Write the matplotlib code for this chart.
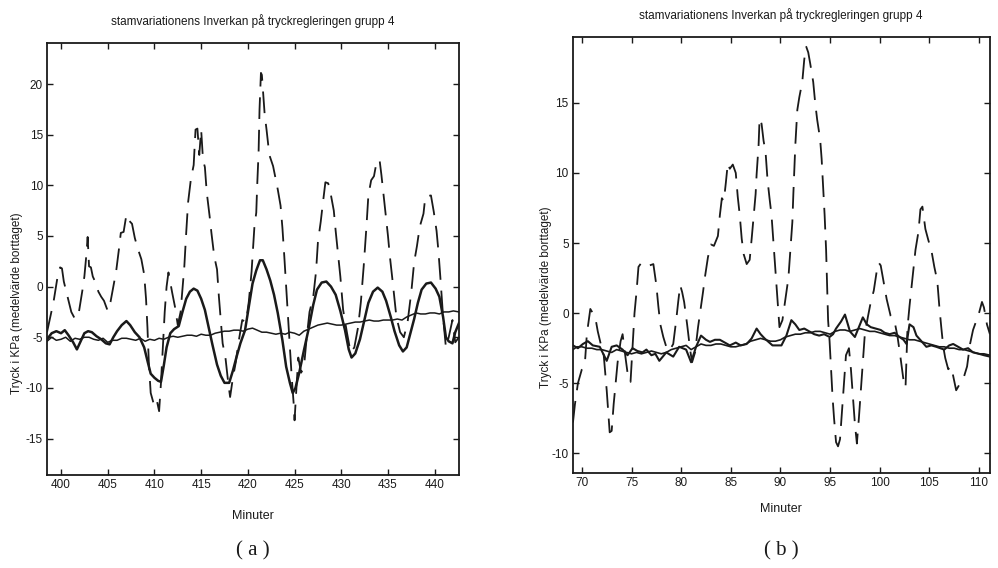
import matplotlib
matplotlib.use("Agg")
import matplotlib.pyplot as plt
from matplotlib.ticker import MultipleLocator

plt.rcParams['font.family'] = ['Liberation Sans', 'DejaVu Sans']
plt.rcParams['axes.unicode_minus'] = False

TITLE = "stamvariationens Inverkan på tryckregleringen grupp 4"
YLABEL = "Tryck i KPa (medelvärde borttaget)"
XLABEL = "Minuter"

# ---------------- panel (a): minutes 398.5 - 442.6 ----------------
a_dash_t = [398.5, 399.2, 399.6, 399.9, 400.1, 400.3, 400.7, 401.1, 401.5, 401.9,
            402.3, 402.5, 402.7, 402.85, 403.0, 403.2, 403.4, 403.7, 404.0, 404.3,
            404.6, 405.0, 405.3, 405.6, 405.9, 406.2, 406.4, 406.7, 407.0, 407.3,
            407.6, 407.9, 408.2, 408.6, 408.9, 409.1, 409.25, 409.4, 409.6, 409.9,
            410.2, 410.5, 410.7, 410.9, 411.1, 411.3, 411.5, 411.9, 412.2, 412.5,
            412.8, 413.0, 413.2, 413.4, 413.6, 413.9, 414.2, 414.4, 414.6, 414.8,
            415.0, 415.2, 415.4, 415.6, 415.9, 416.1, 416.4, 416.7, 416.9, 417.1,
            417.3, 417.6, 417.9, 418.1, 418.4, 418.7, 419.0, 419.4, 419.8, 420.1,
            420.4, 420.7, 420.9, 421.0, 421.15, 421.25, 421.4, 421.5, 421.8, 422.0,
            422.3, 422.7, 423.2, 423.5, 423.7, 423.9, 424.1, 424.3, 424.5, 424.7,
            424.9, 425.0, 425.2, 425.4, 425.7, 426.0, 426.3, 426.6, 427.0, 427.3,
            427.5, 427.8, 428.0, 428.3, 428.6, 428.9, 429.2, 429.4, 429.6, 429.9,
            430.2, 430.6, 431.0, 431.4, 431.8, 432.1, 432.4, 432.7, 432.9, 433.2,
            433.5, 433.8, 434.1, 434.3, 434.5, 434.8, 435.0, 435.2, 435.5, 435.9,
            436.3, 436.7, 437.1, 437.5, 437.8, 438.1, 438.4, 438.8, 439.0, 439.6,
            439.9, 440.2, 440.4, 440.6, 440.9, 441.2, 441.5, 441.9, 442.2, 442.6]
a_dash_p = [-4.5, -1.5, 0.8, 1.9, 1.8, 0.5, -1.0, -2.5, -3.2, -2.6,
            -0.3, 1.0, 3.0, 4.9, 2.0, 1.9, 1.0, 0.4, -0.5, -1.0,
            -1.4, -2.4, -1.5, 0.0, 1.5, 3.7, 5.3, 5.4, 7.1, 6.5,
            6.2, 4.8, 3.8, 2.7, 1.2, -1.2, -4.0, -7.5, -10.5, -11.5,
            -11.0, -12.3, -9.5, -6.0, -2.5, 0.0, 1.4, -0.6, -2.0, -3.8,
            -2.5, -0.3, 2.0, 5.3, 8.3, 10.6, 12.0, 15.5, 15.6, 13.0,
            15.5, 12.5, 11.8, 9.3, 7.0, 5.3, 3.0, 1.7, -1.0, -3.3,
            -5.6, -7.0, -9.5, -10.9, -9.0, -7.5, -5.5, -3.3, -3.5, -1.5,
            1.5, 5.9, 7.3, 10.0, 13.3, 17.5, 21.1, 20.9, 17.0, 15.5,
            13.0, 11.9, 9.6, 8.0, 5.8, 3.0, 0.0, -3.0, -6.0, -9.0,
            -11.5, -13.2, -10.0, -7.0, -8.5, -8.0, -5.0, -2.5, -1.0, 1.5,
            4.4, 6.4, 8.0, 10.3, 10.2, 9.0, 7.5, 5.5, 3.7, 1.0,
            -2.3, -4.5, -6.5, -6.0, -4.0, -1.5, 2.0, 6.0, 9.0, 10.5,
            10.9, 12.4, 12.5, 11.0, 9.3, 6.8, 5.0, 3.0, 0.5, -3.0,
            -4.5, -5.0, -3.5, -0.5, 2.4, 4.0, 5.9, 7.2, 8.9, 9.0,
            7.4, 5.5, 3.5, 1.0, -3.0, -6.0, -5.0, -3.3, -5.5, -5.0]

a_solid_t = [398.5, 399.0, 399.5, 400.0, 400.4, 400.8, 401.3, 401.7, 402.1, 402.5,
             402.9, 403.3, 403.8, 404.3, 404.8, 405.2, 405.6, 406.0, 406.5, 407.0,
             407.4, 407.9, 408.4, 408.9, 409.3, 409.6, 410.0, 410.4, 410.7, 411.0,
             411.3, 411.7, 412.1, 412.6, 413.0, 413.4, 413.8, 414.2, 414.6, 415.0,
             415.4, 415.8, 416.2, 416.7, 417.1, 417.5, 418.0, 418.4, 418.8, 419.2,
             419.7, 420.1, 420.5, 420.9, 421.3, 421.6, 422.0, 422.4, 422.8, 423.2,
             423.7, 424.1, 424.5, 424.8, 425.1, 425.5, 426.0, 426.5, 427.0, 427.4,
             427.9, 428.4, 428.9, 429.4, 429.9, 430.4, 430.8, 431.1, 431.5, 432.0,
             432.5, 432.9, 433.4, 433.9, 434.4, 434.8, 435.3, 435.7, 436.2, 436.6,
             437.0, 437.4, 437.8, 438.2, 438.6, 439.1, 439.6, 440.1, 440.5, 440.9,
             441.2, 441.5, 441.9, 442.2, 442.6]
a_solid_p = [-5.2, -4.6, -4.4, -4.6, -4.3, -4.8, -5.5, -6.2, -5.4, -4.6,
             -4.4, -4.5, -4.9, -5.2, -5.6, -5.7, -5.0, -4.4, -3.8, -3.4,
             -3.8, -4.5, -5.0, -6.0, -7.5, -8.6, -9.0, -9.3, -9.4, -7.8,
             -6.0, -4.6, -4.2, -3.9, -2.5, -1.2, -0.5, -0.2, -0.4, -1.2,
             -2.3, -4.0, -5.7, -7.7, -8.8, -9.5, -9.5, -8.3, -6.9, -5.6,
             -4.3, -2.0, 0.3, 1.6, 2.6, 2.6, 1.7, 0.6, -0.8, -2.6,
             -5.3, -7.9, -9.5, -10.5, -10.0, -8.5, -6.3, -4.2, -1.8, -0.3,
             0.4, 0.5, 0.0, -0.8, -2.4, -4.3, -6.2, -7.0, -6.6, -5.2,
             -3.2, -1.6, -0.5, -0.1, -0.5, -1.4, -3.0, -4.4, -5.8, -6.4,
             -6.0, -4.6, -3.2, -1.6, -0.3, 0.3, 0.4, -0.2, -1.0, -3.0,
             -5.0, -5.4, -5.6, -4.5, -3.6]

a_thin_t = [398.5, 399.0, 399.5, 400.0, 400.5, 401.0, 401.5, 402.0, 402.5, 403.0,
            403.5, 404.0, 404.5, 405.0, 405.5, 406.0, 406.5, 407.0, 407.5, 408.0,
            408.5, 409.0, 409.5, 410.0, 410.5, 411.0, 411.5, 412.0, 412.5, 413.0,
            413.5, 414.0, 414.5, 415.0, 415.5, 416.0, 416.5, 417.0, 417.5, 418.0,
            418.5, 419.0, 419.5, 420.0, 420.5, 421.0, 421.5, 422.0, 422.5, 423.0,
            423.5, 424.0, 424.5, 425.0, 425.5, 426.0, 426.5, 427.0, 427.5, 428.0,
            428.5, 429.0, 429.5, 430.0, 430.5, 431.0, 431.5, 432.0, 432.5, 433.0,
            433.5, 434.0, 434.5, 435.0, 435.5, 436.0, 436.5, 437.0, 437.5, 438.0,
            438.5, 439.0, 439.5, 440.0, 440.5, 441.0, 441.5, 442.0, 442.6]
a_thin_p = [-5.4, -5.0, -5.3, -5.2, -5.0, -5.4, -5.1, -5.2, -5.0, -5.0,
            -5.2, -5.3, -5.1, -5.5, -5.3, -5.3, -5.1, -5.1, -5.2, -5.3,
            -5.1, -5.4, -5.2, -5.3, -5.1, -5.2, -5.0, -4.9, -5.0, -4.9,
            -4.8, -4.8, -4.9, -4.7, -4.8, -4.8, -4.6, -4.5, -4.4, -4.4,
            -4.3, -4.3, -4.4, -4.2, -4.1, -4.3, -4.5, -4.5, -4.6, -4.7,
            -4.6, -4.7, -4.5, -4.6, -4.8, -4.4, -4.2, -4.0, -3.8, -3.7,
            -3.6, -3.7, -3.8, -3.8, -3.7, -3.6, -3.5, -3.5, -3.4, -3.3,
            -3.4, -3.4, -3.3, -3.3, -3.3, -3.2, -3.3, -3.0, -2.8, -2.6,
            -2.7, -2.7, -2.6, -2.6, -2.7, -2.5, -2.5, -2.4, -2.5]

# ---------------- panel (b): minutes 69.1 - 111.1 ----------------
b_dash_t = [69.1, 69.3, 69.6, 70.0, 70.3, 70.5, 70.7, 70.85, 71.1, 71.4,
            71.6, 71.9, 72.2, 72.5, 72.7, 72.8, 73.0, 73.2, 73.4, 73.6,
            73.9, 74.1, 74.4, 74.7, 74.9, 75.1, 75.3, 75.5, 75.7, 76.0,
            76.4, 76.8, 77.2, 77.5, 77.7, 77.9, 78.2, 78.5, 78.8, 79.2,
            79.5, 79.7, 79.9, 80.1, 80.3, 80.6, 80.9, 81.1, 81.4, 81.7,
            82.0, 82.2, 82.4, 82.7, 83.0, 83.3, 83.7, 83.9, 84.1, 84.3,
            84.5, 84.7, 84.9, 85.2, 85.5, 85.7, 85.9, 86.1, 86.3, 86.6,
            86.9, 87.1, 87.3, 87.5, 87.6, 87.8, 87.9, 88.1, 88.3, 88.5,
            88.7, 88.9, 89.1, 89.3, 89.5, 89.7, 89.9, 90.2, 90.5, 90.8,
            91.0, 91.2, 91.3, 91.4, 91.5, 91.7, 91.9, 92.2, 92.4, 92.6,
            92.8, 93.0, 93.3, 93.5, 93.7, 94.0, 94.15, 94.3, 94.45, 94.6,
            94.7, 94.8, 94.95, 95.1, 95.25, 95.4, 95.6, 95.8, 96.0, 96.2,
            96.4, 96.6, 96.9, 97.1, 97.3, 97.5, 97.7, 97.9, 98.1, 98.3,
            98.5, 98.8, 99.1, 99.4, 99.7, 99.9, 100.1, 100.4, 100.7, 101.1,
            101.5, 101.8, 102.1, 102.4, 102.6, 102.8, 103.0, 103.3, 103.6, 103.9,
            104.1, 104.3, 104.6, 104.9, 105.2, 105.5, 105.8, 106.0, 106.2, 106.4,
            106.6, 106.9, 107.2, 107.5, 107.7, 108.1, 108.5, 108.8, 109.1, 109.4,
            109.7, 110.0, 110.3, 110.5, 110.8, 111.1]
b_dash_p = [-7.8, -6.5, -5.0, -4.0, -3.6, -1.5, -0.5, 0.3, 0.0, -0.5,
            -1.3, -2.2, -3.0, -5.5, -7.5, -8.5, -8.4, -6.5, -5.0, -3.5,
            -2.0, -1.5, -3.2, -4.8, -4.9, -2.5, 0.0, 1.5, 3.3, 3.6,
            3.4, 3.4, 3.5, 2.0, 0.5, -0.8, -1.7, -2.4, -2.7, -2.2,
            -0.5, 0.8, 2.0, 1.5, 0.8, -0.8, -2.6, -3.5, -2.8, -1.0,
            0.5, 1.5, 2.6, 4.0, 4.9, 4.8, 5.5, 7.0, 8.2, 8.0,
            9.3, 10.7, 10.3, 10.6, 10.0, 8.3, 7.0, 5.3, 4.2, 3.5,
            3.8, 5.3, 6.9, 8.5, 9.9, 12.0, 13.9, 13.5, 12.3, 11.5,
            9.5, 8.2, 7.0, 5.0, 3.0, 1.0, -1.0, -0.5, 1.0, 2.5,
            4.5, 6.5, 8.5, 10.2, 12.0, 14.5, 15.4, 16.5, 18.1, 19.0,
            18.6, 17.8, 16.5, 15.0, 13.8, 12.4, 11.0, 9.0, 7.0, 4.5,
            2.0, -0.5, -2.0, -4.0, -6.0, -7.5, -9.2, -9.5, -9.0, -7.0,
            -5.0, -3.0, -2.5, -4.0, -6.0, -7.9, -9.3, -7.5, -5.5, -3.5,
            -1.5, -0.3, 0.8, 1.6, 3.0, 3.6, 3.4, 2.2, 1.0, -0.2,
            -0.6, -1.7, -3.2, -4.8, -5.3, -1.0, 0.5, 2.5, 4.5, 5.8,
            7.4, 7.6, 6.0, 5.2, 4.5, 3.3, 2.3, 0.5, -1.0, -2.4,
            -3.2, -4.0, -3.8, -4.8, -5.5, -5.0, -4.5, -3.8, -2.2, -1.2,
            -0.6, 0.0, 0.8, 0.4, -0.8, -1.5]

b_solid_t = [69.1, 69.6, 70.1, 70.6, 71.1, 71.8, 72.5, 73.0, 73.5, 74.1,
             74.6, 75.1, 75.6, 76.1, 76.5, 77.0, 77.4, 77.8, 78.5, 79.2,
             79.8, 80.5, 81.0, 81.5, 82.0, 82.5, 82.9, 83.4, 83.9, 84.4,
             84.9, 85.5, 86.0, 86.6, 87.1, 87.6, 88.0, 88.4, 89.2, 90.1,
             90.6, 91.1, 91.5, 91.9, 92.4, 92.9, 93.4, 93.9, 94.4, 94.95,
             95.3, 95.6, 96.1, 96.5, 97.0, 97.5, 97.9, 98.3, 98.7, 99.1,
             99.6, 100.1, 100.5, 101.0, 101.5, 102.0, 102.4, 102.7, 103.0, 103.4,
             103.7, 104.2, 104.7, 105.2, 105.7, 106.1, 106.5, 107.0, 107.4, 107.9,
             108.4, 108.9, 109.4, 110.0, 110.5, 111.1]
b_solid_p = [-2.3, -2.5, -2.2, -2.0, -2.3, -2.4, -3.4, -2.4, -2.3, -2.6,
             -3.0, -2.5, -2.7, -2.8, -2.6, -3.0, -2.9, -3.4, -2.8, -3.1,
             -2.4, -2.6, -3.5, -2.4, -1.6, -1.9, -2.05, -1.9, -1.9, -2.1,
             -2.3, -2.1, -2.3, -2.2, -1.8, -1.1, -1.5, -1.8, -2.3, -2.3,
             -1.6, -0.5, -0.8, -1.2, -1.1, -1.3, -1.5, -1.6, -1.5, -1.7,
             -1.5, -1.1, -0.6, -0.1, -1.3, -1.7, -1.0, -0.3, -0.8, -1.0,
             -1.1, -1.2, -1.4, -1.5, -1.4, -1.7, -1.9, -2.2, -0.8, -1.0,
             -1.6, -2.0, -2.4, -2.3, -2.4, -2.5, -2.6, -2.3, -2.2, -2.4,
             -2.6, -2.5, -2.8, -2.9, -3.0, -3.1]

b_thin_t = [69.1, 69.5, 70.0, 70.5, 71.0, 71.5, 72.0, 72.5, 73.0, 73.5,
            74.0, 74.5, 75.0, 75.5, 76.0, 76.5, 77.0, 77.5, 78.0, 78.5,
            79.0, 79.5, 80.0, 80.5, 81.0, 81.5, 82.0, 82.5, 83.0, 83.5,
            84.0, 84.5, 85.0, 85.5, 86.0, 86.5, 87.0, 87.5, 88.0, 88.5,
            89.0, 89.5, 90.0, 90.5, 91.0, 91.5, 92.0, 92.5, 93.0, 93.5,
            94.0, 94.5, 95.0, 95.5, 96.0, 96.5, 97.0, 97.5, 98.0, 98.5,
            99.0, 99.5, 100.0, 100.5, 101.0, 101.5, 102.0, 102.5, 103.0, 103.5,
            104.0, 104.5, 105.0, 105.5, 106.0, 106.5, 107.0, 107.5, 108.0, 108.5,
            109.0, 109.5, 110.0, 110.5, 111.1]
b_thin_p = [-2.6, -2.4, -2.4, -2.5, -2.5, -2.6, -2.6, -2.7, -2.8, -2.6,
            -2.7, -2.8, -2.9, -2.8, -2.9, -2.8, -2.7, -2.8, -2.9, -2.8,
            -2.6, -2.5, -2.4, -2.3, -2.6, -2.4, -2.2, -2.3, -2.3, -2.2,
            -2.2, -2.3, -2.4, -2.4, -2.3, -2.2, -2.0, -1.9, -1.8, -1.9,
            -2.0, -2.0, -1.9, -1.7, -1.6, -1.5, -1.5, -1.4, -1.4, -1.3,
            -1.3, -1.4, -1.5, -1.3, -1.2, -1.2, -1.3, -1.2, -1.1, -1.2,
            -1.3, -1.3, -1.4, -1.5, -1.6, -1.6, -1.7, -1.8, -1.9, -1.9,
            -2.0, -2.1, -2.2, -2.3, -2.4, -2.4, -2.5, -2.5, -2.6, -2.6,
            -2.7, -2.8, -2.9, -2.9, -3.0]

INK = "#1a1a1a"

fig = plt.figure(figsize=(9.98, 5.68), dpi=100)
ax_a = fig.add_axes([0.0471, 0.1637, 0.4128, 0.7606])
ax_b = fig.add_axes([0.5741, 0.1673, 0.4178, 0.7676])


def style_axes(ax, xlim, ylim, xstep, ystep):
    ax.set_xlim(*xlim)
    ax.set_ylim(*ylim)
    ax.xaxis.set_major_locator(MultipleLocator(xstep))
    ax.yaxis.set_major_locator(MultipleLocator(ystep))
    ax.tick_params(direction="in", top=True, right=True, length=4, width=1.0,
                   labelsize=8.5, colors=INK, pad=3)
    for sp in ax.spines.values():
        sp.set_linewidth(1.3)
        sp.set_color(INK)


def draw_panel(ax, t_d, p_d, t_s, p_s, t_t, p_t, solid_lw, thin_lw):
    ax.plot(t_t, p_t, color=INK, lw=thin_lw)
    ax.plot(t_s, p_s, color=INK, lw=solid_lw)
    ax.plot(t_d, p_d, color=INK, lw=1.3, dashes=(12, 6))


draw_panel(ax_a, a_dash_t, a_dash_p, a_solid_t, a_solid_p, a_thin_t, a_thin_p, 1.8, 1.1)
style_axes(ax_a, (398.5, 442.6), (-18.6, 24.05), 5, 5)

draw_panel(ax_b, b_dash_t, b_dash_p, b_solid_t, b_solid_p, b_thin_t, b_thin_p, 1.5, 1.2)
style_axes(ax_b, (69.1, 111.1), (-11.4, 19.7), 5, 5)

H = 568.0
W = 998.0
# titles, axis labels and panel captions
fig.text(253 / W, 1 - 21 / H, TITLE, ha="center", va="center", fontsize=8.5, color=INK)
fig.text(781 / W, 1 - 15 / H, TITLE, ha="center", va="center", fontsize=8.5, color=INK)
fig.text(253 / W, 1 - 516 / H, XLABEL, ha="center", va="center", fontsize=9, color=INK)
fig.text(781 / W, 1 - 509 / H, XLABEL, ha="center", va="center", fontsize=9, color=INK)
fig.text(17 / W, 1 - 303 / H, YLABEL, ha="center", va="center", rotation=90,
         fontsize=8.5, color=INK)
fig.text(546 / W, 1 - 297 / H, YLABEL, ha="center", va="center", rotation=90,
         fontsize=8.5, color=INK)
fig.text(253 / W, 1 - 551 / H, "( a )", ha="center", va="center", fontsize=15,
         family=["Liberation Serif", "DejaVu Serif"], color=INK)
fig.text(781 / W, 1 - 551 / H, "( b )", ha="center", va="center", fontsize=15,
         family=["Liberation Serif", "DejaVu Serif"], color=INK)

fig.savefig("out.png", dpi=100)
